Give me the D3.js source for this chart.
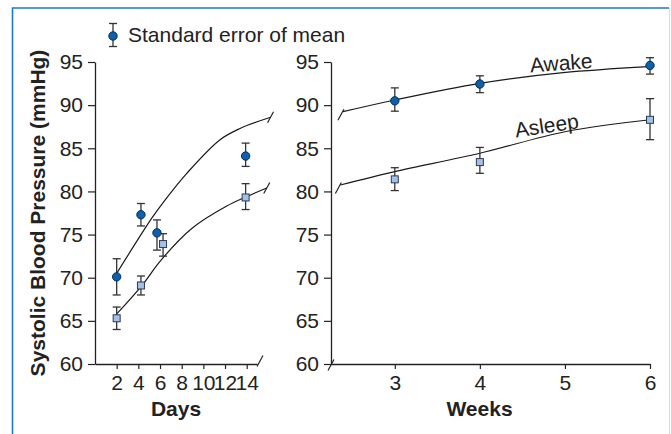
<!DOCTYPE html>
<html>
<head>
<meta charset="utf-8">
<script src="https://cdn.jsdelivr.net/npm/d3@7"></script>
<style>
  body { margin: 0; background: #fff; }
  text { font-family: "Liberation Sans", Arial, sans-serif; fill: #222; }
</style>
</head>
<body>
<div id="chart"></div>
<script>
// ---- data ----
var yTicks = [60, 65, 70, 75, 80, 85, 90, 95];
var dayTicks = [2, 4, 6, 8, 10, 12, 14];
var weekTicks = [3, 4, 5, 6];

// days panel
var awakeDays = [2, 4.24, 5.72, 13.9];
var awakeDayMean = [70.1, 77.3, 75.2, 84.1];
var awakeDayHi = [72.2, 78.6, 76.7, 85.6];
var awakeDayLo = [68.0, 76.0, 73.2, 82.9];

var asleepDays = [2, 4.24, 6.28, 13.9];
var asleepDayMean = [65.3, 69.1, 73.9, 79.3];
var asleepDayHi = [66.6, 70.2, 75.1, 80.9];
var asleepDayLo = [64.0, 68.0, 72.5, 77.9];

var awakeDayCurve = [[2, 70.5], [5.24, 76.9], [6.46, 79.0], [8.47, 82.1], [11.54, 86.0], [13.39, 87.3], [16.2, 88.6]];
var asleepDayCurve = [[2, 65.8], [4.46, 69.3], [6, 71.9], [8.93, 75.7], [12.16, 78.3], [14, 79.4], [15.85, 80.4]];

// weeks panel
var weeks = [3, 4, 6];
var awakeWeekMean = [90.5, 92.45, 94.6];
var awakeWeekHi = [92.0, 93.4, 95.5];
var awakeWeekLo = [89.3, 91.45, 93.6];

var asleepWeekMean = [81.4, 83.4, 88.3];
var asleepWeekHi = [82.75, 85.1, 90.75];
var asleepWeekLo = [80.1, 82.1, 86.0];

var awakeWeekCurve = [[2.39, 89.24], [3, 90.6], [4, 92.53], [4.98, 93.76], [5.98, 94.46]];
var asleepWeekCurve = [[2.36, 80.75], [3, 82.3], [4, 84.42], [5, 86.92], [5.98, 88.28]];

// ---- styles ----
var W = 671, H = 434;
var fontSize = 21;
var awakeFill = "#0862b0", awakeStroke = "#0b2a4f";
var asleepFill = "#a3c1e8", asleepStroke = "#2b3a52";
var barColor = "#333";

var svg = d3.select("#chart")
    .append("svg")
        .attr("width", W)
        .attr("height", H);

// frame
svg.append("path")
    .attr("d", "M12.5," + H + "V8H669")
    .attr("fill", "none")
    .attr("stroke", "#1f78cf")
    .attr("stroke-width", 1.6);
svg.append("line")
    .attr("x1", 669.5).attr("x2", 669.5)
    .attr("y1", 8).attr("y2", H)
    .attr("stroke", "#d3dde8")
    .attr("stroke-width", 1);

var y = d3.scaleLinear().domain([60, 95]).range([364, 62]);
var xDay = d3.scaleLinear().domain([0, 14.95]).range([95, 257]);
var xWeek = d3.scaleLinear().domain([2.25, 6]).range([331, 650]);

function drawAxes(x, xticks, label){
    var yAxis = d3.axisLeft(y).tickValues(yTicks).tickSize(7).tickSizeOuter(0).tickPadding(5);
    var gy = svg.append("g")
        .attr("transform", "translate(" + x.range()[0] + ",0)")
        .call(yAxis);
    var xAxis = d3.axisBottom(x).tickValues(xticks).tickFormat(d3.format("d"))
        .tickSize(5).tickSizeOuter(0).tickPadding(6);
    var gx = svg.append("g")
        .attr("transform", "translate(0," + y.range()[0] + ")")
        .call(xAxis);
    [gy, gx].forEach(function(g){
        g.select(".domain").attr("stroke", "#222").attr("stroke-width", 1.3);
        g.selectAll(".tick line").attr("stroke", "#222").attr("stroke-width", 1.2);
        g.selectAll(".tick text")
            .attr("font-size", fontSize + "px")
            .attr("font-family", "Liberation Sans, Arial, sans-serif")
            .attr("fill", "#222");
    });
    svg.append("text")
        .attr("x", (x.range()[0] + x.range()[1]) / 2 + (label == "Days" ? 0 : -11))
        .attr("y", 416)
        .attr("text-anchor", "middle")
        .attr("font-weight", "bold")
        .attr("font-size", fontSize + "px")
        .text(label);
}

drawAxes(xDay, dayTicks, "Days");
drawAxes(xWeek, weekTicks, "Weeks");

svg.append("text")
    .attr("transform", "translate(45,213) rotate(-90)")
    .attr("text-anchor", "middle")
    .attr("font-weight", "bold")
    .attr("font-size", fontSize + "px")
    .text("Systolic Blood Pressure (mmHg)");

// small "/" break marks
function slash(cx, cy){
    svg.append("line")
        .attr("x1", cx - 3).attr("y1", cy + 5.5)
        .attr("x2", cx + 3).attr("y2", cy - 5.5)
        .attr("stroke", "#222")
        .attr("stroke-width", 1.2);
}
slash(xDay.range()[1] + 3, y.range()[0] - 3);
slash(xWeek.range()[0], y.range()[0] + 1);

var line = d3.line().curve(d3.curveCatmullRom.alpha(0.5));

function drawCurve(x, pts, endSide){
    var pix = pts.map(function(d){ return [x(d[0]), y(d[1])]; });
    svg.append("path")
        .attr("d", line(pix))
        .attr("fill", "none")
        .attr("stroke", "#1a1a1a")
        .attr("stroke-width", 1.2);
    var p = endSide == "end" ? pix[pix.length - 1] : pix[0];
    slash(p[0] + (endSide == "end" ? 0 : -2), p[1] + (endSide == "end" ? 0 : 3));
}

drawCurve(xDay, awakeDayCurve, "end");
drawCurve(xDay, asleepDayCurve, "end");
drawCurve(xWeek, awakeWeekCurve, "start");
drawCurve(xWeek, asleepWeekCurve, "start");

function errorBars(x, xs, hi, lo){
    var g = svg.append("g")
        .attr("stroke", barColor)
        .attr("stroke-width", 1.3);
    xs.forEach(function(d, i){
        var px = x(d);
        g.append("line").attr("x1", px).attr("x2", px).attr("y1", y(hi[i])).attr("y2", y(lo[i]));
        g.append("line").attr("x1", px - 4).attr("x2", px + 4).attr("y1", y(hi[i])).attr("y2", y(hi[i]));
        g.append("line").attr("x1", px - 4).attr("x2", px + 4).attr("y1", y(lo[i])).attr("y2", y(lo[i]));
    });
}

function circles(x, xs, means){
    svg.append("g").selectAll("circle")
        .data(xs)
        .enter()
        .append("circle")
            .attr("cx", function(d){ return x(d); })
            .attr("cy", function(d, i){ return y(means[i]); })
            .attr("r", 4.2)
            .attr("fill", awakeFill)
            .attr("stroke", awakeStroke)
            .attr("stroke-width", 1);
}

function squares(x, xs, means){
    var s = 7;
    svg.append("g").selectAll("rect")
        .data(xs)
        .enter()
        .append("rect")
            .attr("x", function(d){ return x(d) - s / 2; })
            .attr("y", function(d, i){ return y(means[i]) - s / 2; })
            .attr("width", s)
            .attr("height", s)
            .attr("fill", asleepFill)
            .attr("stroke", asleepStroke)
            .attr("stroke-width", 1);
}

errorBars(xDay, awakeDays, awakeDayHi, awakeDayLo);
errorBars(xDay, asleepDays, asleepDayHi, asleepDayLo);
errorBars(xWeek, weeks, awakeWeekHi, awakeWeekLo);
errorBars(xWeek, weeks, asleepWeekHi, asleepWeekLo);
circles(xDay, awakeDays, awakeDayMean);
squares(xDay, asleepDays, asleepDayMean);
circles(xWeek, weeks, awakeWeekMean);
squares(xWeek, weeks, asleepWeekMean);

// curve labels
svg.append("text")
    .attr("transform", "translate(530.5,72.5) rotate(-4.2)")
    .attr("font-size", fontSize + "px")
    .text("Awake");
svg.append("text")
    .attr("transform", "translate(516,137.5) rotate(-8.6)")
    .attr("font-size", fontSize + "px")
    .text("Asleep");

// legend
var lg = svg.append("g").attr("transform", "translate(113,36)");
lg.append("line").attr("x1", 0).attr("x2", 0).attr("y1", -12.5).attr("y2", 10.5)
    .attr("stroke", barColor).attr("stroke-width", 1.3);
lg.append("line").attr("x1", -4).attr("x2", 4).attr("y1", -12.5).attr("y2", -12.5)
    .attr("stroke", barColor).attr("stroke-width", 1.3);
lg.append("line").attr("x1", -4).attr("x2", 4).attr("y1", 10.5).attr("y2", 10.5)
    .attr("stroke", barColor).attr("stroke-width", 1.3);
lg.append("circle").attr("r", 4.2)
    .attr("fill", awakeFill).attr("stroke", awakeStroke).attr("stroke-width", 1);
lg.append("text")
    .attr("x", 15).attr("y", 6)
    .attr("font-size", fontSize + "px")
    .text("Standard error of mean");
</script>
</body>
</html>
